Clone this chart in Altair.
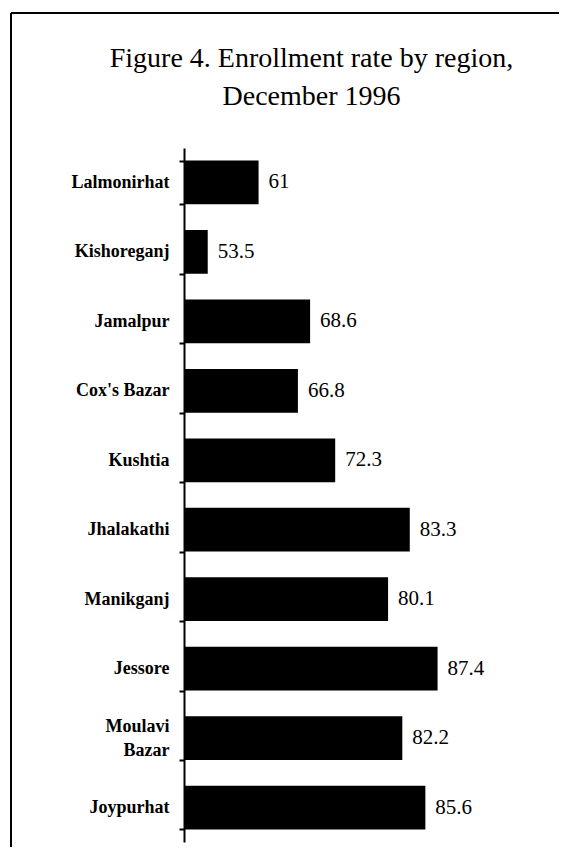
import altair as alt
import pandas as pd

regions = ["Lalmonirhat", "Kishoreganj", "Jamalpur", "Cox's Bazar", "Kushtia",
           "Jhalakathi", "Manikganj", "Jessore", "Moulavi Bazar", "Joypurhat"]
rates = [61, 53.5, 68.6, 66.8, 72.3, 83.3, 80.1, 87.4, 82.2, 85.6]
rate_labels = ["61", "53.5", "68.6", "66.8", "72.3", "83.3", "80.1", "87.4", "82.2", "85.6"]

df = pd.DataFrame({"region": regions, "rate": rates, "label": rate_labels})
frame_df = pd.DataFrame({"k": [0]})

SERIF = "Liberation Serif"

y_enc = alt.Y(
    "region:N",
    sort=regions,
    scale=alt.Scale(paddingInner=0.37, paddingOuter=0.18),
    axis=alt.Axis(
        title=None,
        tickBand="extent",
        tickSize=5,
        tickWidth=2,
        tickColor="black",
        domainColor="black",
        domainWidth=2,
        labelFont=SERIF,
        labelFontWeight="bold",
        labelFontSize=18,
        labelColor="black",
        labelPadding=10,
        labelLineHeight=24,
        labelOffset={"condition": {"test": "datum.label == 'Moulavi Bazar'", "value": -12}, "value": 0},
        labelExpr="datum.label == 'Moulavi Bazar' ? ['Moulavi', 'Bazar\u00a0\u00a0\u00a0'] : datum.label",
    ),
)
x_enc = alt.X("rate:Q", scale=alt.Scale(domain=[50, 100], nice=False, zero=False), axis=None)

bars = alt.Chart(df).mark_bar(color="black").encode(x=x_enc, x2=alt.datum(50), y=y_enc)

texts = alt.Chart(df).mark_text(
    align="left", baseline="middle", dx=10, font=SERIF, fontSize=21, color="black"
).encode(x=x_enc, y=alt.Y("region:N", sort=regions), text="label:N")

top_line = alt.Chart(frame_df).mark_rule(color="black", strokeWidth=2).encode(
    x=alt.value(-173), x2=alt.value(400), y=alt.value(-135)
)
left_line = alt.Chart(frame_df).mark_rule(color="black", strokeWidth=2).encode(
    x=alt.value(-173), y=alt.value(-135), y2=alt.value(760)
)

chart = alt.layer(bars, texts, top_line, left_line).properties(
    width=339,
    height=694,
    title=alt.Title(
        ["Figure 4. Enrollment rate by region,", "December 1996"],
        font=SERIF,
        fontSize=28,
        fontWeight="normal",
        color="black",
        lineHeight=38,
        anchor="middle",
        dx=-42,
        offset=-99,
    ),
    autosize=alt.AutoSizeParams(type="none"),
    padding={"left": 176, "top": 140, "right": 36, "bottom": 5},
).configure_view(stroke=None)

chart.save("out.html", embed_options={"renderer": "svg", "actions": False})
